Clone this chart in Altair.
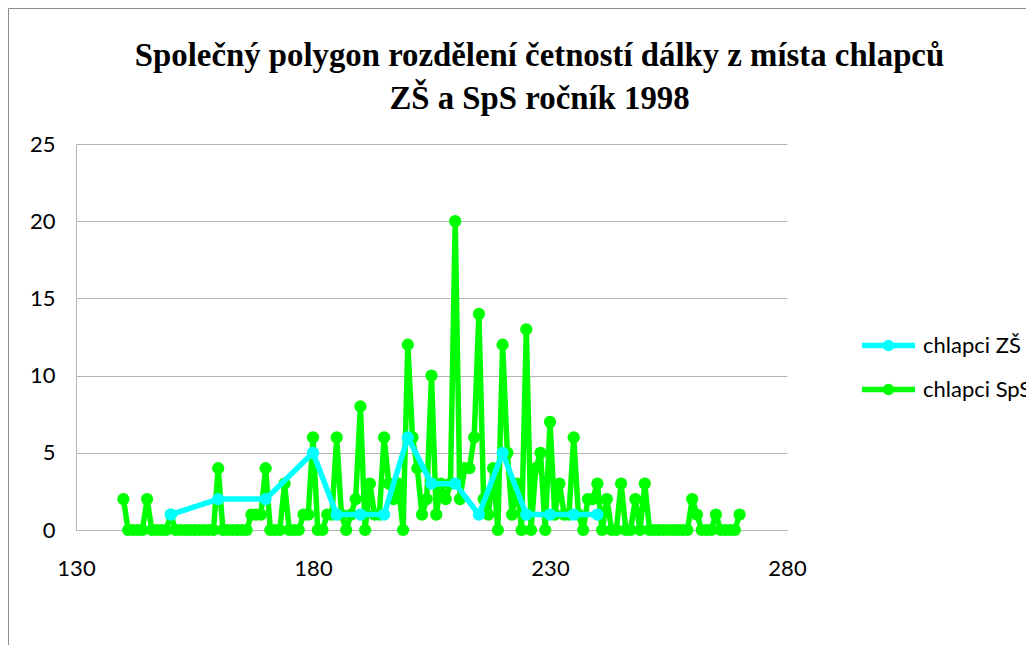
import altair as alt
import pandas as pd

# ---- data ----
labels = ["chlapci ZŠ", "chlapci SpS"]
colors = ["#00FFFF", "#00FF00"]

zs_x = [150, 160, 170, 180, 185, 190, 195, 200, 205, 210, 215, 220, 225, 230, 235, 240]
zs_y = [1, 2, 2, 5, 1, 1, 1, 6, 3, 3, 1, 5, 1, 1, 1, 1]

sps_x = [140, 141, 142, 143, 144, 145, 146, 147, 148, 149,
         150, 151, 152, 153, 154, 155, 156, 157, 158, 159,
         160, 161, 162, 163, 164, 165, 166, 167, 168, 169,
         170, 171, 172, 173, 174, 175, 176, 177, 178, 179,
         180, 181, 182, 183, 184, 185, 186, 187, 188, 189,
         190, 191, 192, 193, 194, 195, 196, 197, 198, 199,
         200, 201, 202, 203, 204, 205, 206, 207, 208, 209,
         210, 211, 212, 213, 214, 215, 216, 217, 218, 219,
         220, 221, 222, 223, 224, 225, 226, 227, 228, 229,
         230, 231, 232, 233, 234, 235, 236, 237, 238, 239,
         240, 241, 242, 243, 244, 245, 246, 247, 248, 249,
         250, 251, 252, 253, 254, 255, 256, 257, 258, 259,
         260, 261, 262, 263, 264, 265, 266, 267, 268, 269,
         270]
sps_y = [2, 0, 0, 0, 0, 2, 0, 0, 0, 0,
         1, 0, 0, 0, 0, 0, 0, 0, 0, 0,
         4, 0, 0, 0, 0, 0, 0, 1, 1, 1,
         4, 0, 0, 0, 3, 0, 0, 0, 1, 1,
         6, 0, 0, 1, 1, 6, 1, 0, 1, 2,
         8, 0, 3, 1, 1, 6, 3, 2, 3, 0,
         12, 6, 4, 1, 2, 10, 1, 3, 2, 3,
         20, 2, 4, 4, 6, 14, 2, 1, 4, 0,
         12, 5, 1, 3, 0, 13, 0, 4, 5, 0,
         7, 1, 3, 1, 1, 6, 1, 0, 2, 2,
         3, 0, 2, 0, 0, 3, 0, 0, 2, 0,
         3, 0, 0, 0, 0, 0, 0, 0, 0, 0,
         2, 1, 0, 0, 0, 1, 0, 0, 0, 0,
         1]

x_ticks = [130, 180, 230, 280]
y_ticks = [0, 5, 10, 15, 20, 25]
title_lines = ["Společný polygon rozdělení četností dálky z místa chlapců",
               "ZŠ a SpS ročník 1998"]

df_zs = pd.DataFrame({"x": zs_x, "y": zs_y, "s": labels[0]})
df_sps = pd.DataFrame({"x": sps_x, "y": sps_y, "s": labels[1]})

GRID = "#b4b4b4"
FONT = "Lato"

xenc = alt.X("x:Q",
             scale=alt.Scale(domain=[130, 280], nice=False, zero=False),
             axis=alt.Axis(values=x_ticks, title=None, grid=False, ticks=False, tickSize=0,
                           labelPadding=28, domainColor=GRID, labelFont=FONT,
                           labelFontSize=22, labelColor="black", labelFlush=False))
yenc = alt.Y("y:Q",
             scale=alt.Scale(domain=[0, 25], nice=False),
             axis=alt.Axis(values=y_ticks, title=None, grid=True, gridColor=GRID,
                           ticks=False, tickSize=0, labelPadding=21, domainColor=GRID,
                           labelFont=FONT, labelFontSize=22, labelColor="black"))

legend_symbol = ("M-1,0L1,0M-0.116,0A0.116,0.116,0,1,0,0.116,0"
                 "A0.116,0.116,0,1,0,-0.116,0Z")
cenc = alt.Color("s:N",
                 scale=alt.Scale(domain=labels, range=colors),
                 legend=alt.Legend(title=None, orient="none", legendX=783, legendY=172,
                                   symbolType=legend_symbol, symbolSize=2800,
                                   symbolStrokeWidth=5.5, labelFont=FONT, labelFontSize=22,
                                   labelColor="black", labelOffset=5, padding=0,
                                   rowPadding=-6, labelLimit=300))

def series(df):
    line = alt.Chart(df).mark_line(strokeWidth=5.5, strokeJoin="round").encode(
        x=xenc, y=yenc, color=cenc)
    pts = alt.Chart(df).mark_circle(size=150, opacity=1).encode(
        x=xenc, y=yenc, color=cenc)
    return [line, pts]

frame = alt.Chart(pd.DataFrame({"d": [0]})).mark_rect(
    filled=False, stroke="#8c8c8c", strokeWidth=1).encode(
    x=alt.value(-67.5), y=alt.value(-135.5), x2=alt.value(3000), y2=alt.value(3000))

chart = alt.layer(frame, *series(df_sps), *series(df_zs)).properties(
    width=711, height=386,
    background="white",
    autosize=alt.AutoSizeParams(type="none"),
    padding={"left": 68, "top": 136, "right": 239, "bottom": 115},
    title=alt.TitleParams(text=title_lines, font="Liberation Serif", fontSize=32.8,
                          fontWeight="bold", color="black", anchor="middle",
                          frame="group", dx=108, lineHeight=43, offset=-134,
                          baseline="alphabetic"),
).configure_view(stroke=None)

chart.save("out.html", embed_options={"renderer": "svg", "actions": False})
